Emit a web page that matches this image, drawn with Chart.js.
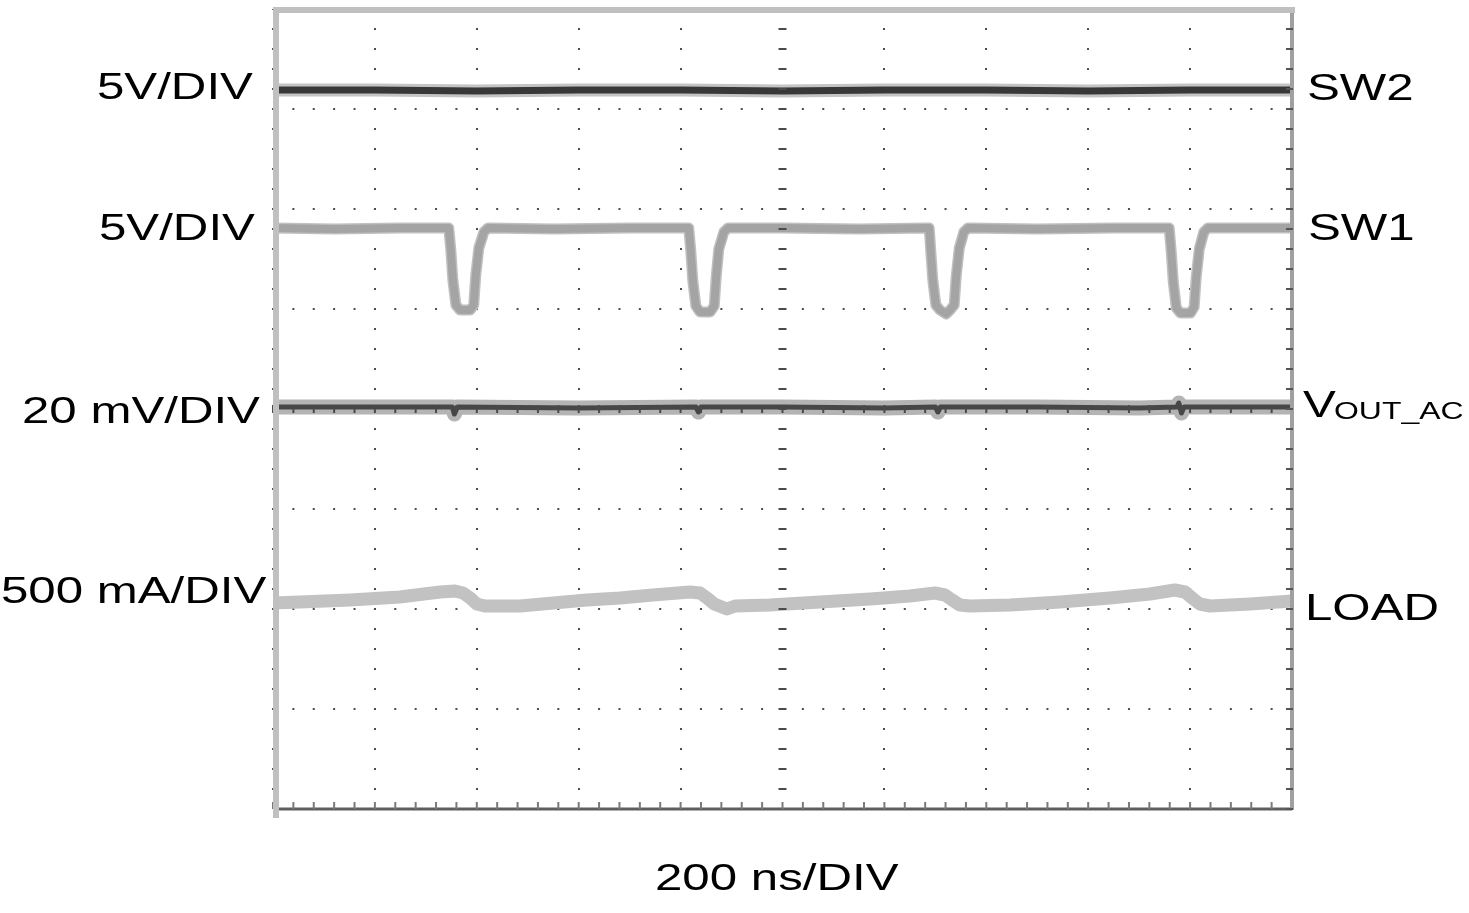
<!DOCTYPE html>
<html>
<head>
<meta charset="utf-8">
<script src="https://cdn.jsdelivr.net/npm/chart.js@4/dist/chart.umd.min.js"></script>
<style>
html,body{margin:0;padding:0;background:#fff;}
canvas{display:block;}
</style>
</head>
<body>
<canvas id="c" width="1469" height="913"></canvas>
<script>
// ---- time base (ns) and vertical position (divisions, 0 = centre line) ----
const xTickStep = 200;          // 200 ns / DIV
const xMin = 0, xMax = 2000;
const yMin = -4, yMax = 4;

// SW2 trace
const sw2T = [0, 200, 400, 600, 800, 1000, 1200, 1400, 1600, 1800, 2000];
const sw2V = [3.19, 3.19, 3.18, 3.19, 3.19, 3.18, 3.19, 3.19, 3.18, 3.19, 3.19];

// SW1 trace
const sw1T = [0, 120, 250, 341, 345, 349, 353, 359, 367, 387, 394, 398, 404, 414, 422,
  550, 700, 813, 816, 820, 824, 830, 838, 858, 866, 870, 875, 885, 893,
  1000, 1150, 1284, 1288, 1291, 1295, 1301, 1309, 1321, 1329, 1337, 1341, 1347, 1356, 1364,
  1500, 1650, 1755, 1759, 1763, 1767, 1773, 1781, 1801, 1808, 1812, 1818, 1827, 1835, 2000];
const sw1V = [1.81, 1.80, 1.81, 1.81, 1.81, 1.59, 1.29, 1.04, 0.99, 0.99, 1.04, 1.34, 1.61, 1.77, 1.81,
  1.80, 1.81, 1.81, 1.81, 1.58, 1.28, 1.03, 0.97, 0.97, 1.03, 1.33, 1.60, 1.77, 1.81,
  1.81, 1.80, 1.81, 1.81, 1.58, 1.29, 1.04, 0.99, 0.95, 0.99, 1.04, 1.33, 1.61, 1.77, 1.81,
  1.80, 1.81, 1.81, 1.81, 1.57, 1.27, 1.01, 0.96, 0.96, 1.02, 1.32, 1.60, 1.77, 1.81, 1.81];

// VOUT_AC trace
const voutT = [0, 200, 352, 356, 362, 600, 830, 835, 840, 1000, 1200, 1300, 1305, 1310, 1500, 1700, 1774, 1778, 1783, 1788, 2000];
const voutV = [0.02, 0.02, 0.02, -0.05, 0.02, 0.01, 0.02, -0.03, 0.02, 0.02, 0.01, 0.02, -0.03, 0.02, 0.02, 0.01, 0.02, 0.06, -0.04, 0.02, 0.02];

// LOAD trace
const loadT = [0, 53, 151, 249, 328, 357, 373, 387, 400, 416, 485, 550, 616, 681, 746, 818, 838, 852, 866, 881, 891, 907,
  975, 1074, 1172, 1250, 1299, 1319, 1333, 1348, 1368, 1447, 1545, 1643, 1721, 1770, 1790, 1804, 1819, 1839, 1918, 2000];
const loadV = [-1.94, -1.93, -1.91, -1.88, -1.83, -1.82, -1.84, -1.89, -1.95, -1.97, -1.97, -1.94, -1.91, -1.89, -1.86, -1.83, -1.84, -1.89, -1.95, -1.98, -2.00, -1.97,
  -1.96, -1.93, -1.90, -1.87, -1.84, -1.86, -1.91, -1.96, -1.97, -1.96, -1.93, -1.89, -1.85, -1.81, -1.83, -1.89, -1.95, -1.97, -1.95, -1.92];

// text
const leftLabels  = ['5V/DIV', '5V/DIV', '20 mV/DIV', '500 mA/DIV'];
const rightLabels = ['SW2', 'SW1', 'V', 'LOAD'];
const voutSub = 'OUT_AC';
const xTitle = '200 ns/DIV';

const pts = (T, V) => T.map((t, i) => ({x: t, y: V[i]}));

const FONT = '"Liberation Sans", Arial, sans-serif';
function stretchText(ctx, txt, x, y, size, sx) {
  ctx.save();
  ctx.translate(x, y);
  ctx.scale(sx, 1);
  ctx.font = size + 'px ' + FONT;
  ctx.textAlign = 'left';
  ctx.textBaseline = 'alphabetic';
  ctx.fillStyle = '#000';
  ctx.fillText(txt, 0, 0);
  ctx.restore();
}

const decor = {
  id: 'decor',
  beforeDraw(chart) {
    const ctx = chart.ctx;
    ctx.save();
    ctx.fillStyle = '#fff';
    ctx.fillRect(0, 0, chart.width, chart.height);
    ctx.restore();
  },
  afterDatasetsDraw(chart) {
    const ctx = chart.ctx, xs = chart.scales.x, ys = chart.scales.y, a = chart.chartArea;
    ctx.save();
    // centre crosshair minor ticks
    ctx.strokeStyle = '#4a4a4a';
    ctx.lineWidth = 2;
    const cx = xs.getPixelForValue((xMin + xMax) / 2);
    const cy = ys.getPixelForValue(0);
    for (let v = yMin; v <= yMax + 1e-9; v += 0.2) {
      const py = ys.getPixelForValue(v);
      ctx.beginPath(); ctx.moveTo(cx - 4, py); ctx.lineTo(cx + 4, py); ctx.stroke();
    }
    for (let t = xMin; t <= xMax + 1e-9; t += xTickStep / 5) {
      const px = xs.getPixelForValue(t);
      ctx.beginPath(); ctx.moveTo(px, cy - 4); ctx.lineTo(px, cy + 4); ctx.stroke();
    }
    // bottom edge with ticks
    ctx.strokeStyle = '#5e5e5e';
    ctx.lineWidth = 3;
    ctx.beginPath(); ctx.moveTo(a.left, a.bottom); ctx.lineTo(a.right, a.bottom); ctx.stroke();
    ctx.strokeStyle = '#7a7a7a';
    ctx.lineWidth = 2;
    for (let t = xMin; t <= xMax + 1e-9; t += xTickStep / 5) {
      const px = xs.getPixelForValue(t);
      ctx.beginPath(); ctx.moveTo(px, a.bottom); ctx.lineTo(px, a.bottom - 7); ctx.stroke();
    }
    // right edge with ticks
    ctx.strokeStyle = '#a0a0a0';
    ctx.lineWidth = 4;
    ctx.beginPath(); ctx.moveTo(a.right, a.top); ctx.lineTo(a.right, a.bottom + 1); ctx.stroke();
    ctx.strokeStyle = '#555';
    ctx.lineWidth = 2;
    for (let v = yMin; v <= yMax + 1e-9; v += 0.2) {
      const py = ys.getPixelForValue(v);
      ctx.beginPath(); ctx.moveTo(a.right - 6, py); ctx.lineTo(a.right + 1, py); ctx.stroke();
    }
    // top and left edges (light grey)
    ctx.strokeStyle = '#c0c0c0';
    ctx.lineWidth = 6;
    ctx.beginPath(); ctx.moveTo(a.left, a.top + 1); ctx.lineTo(a.right + 3, a.top + 1); ctx.stroke();
    ctx.beginPath(); ctx.moveTo(a.left + 3, a.top - 2); ctx.lineTo(a.left + 3, a.bottom + 9); ctx.stroke();
    ctx.restore();
  },
  afterDraw(chart) {
    const ctx = chart.ctx;
    const S = 37, SX = 1.33;
    // left labels
    stretchText(ctx, leftLabels[0], 97, 99, S, SX);
    stretchText(ctx, leftLabels[1], 99, 240, S, SX);
    stretchText(ctx, leftLabels[2], 22, 423, S, SX);
    stretchText(ctx, leftLabels[3], 1, 603, S, SX);
    // right labels
    stretchText(ctx, rightLabels[0], 1307, 100, S, SX);
    stretchText(ctx, rightLabels[1], 1308, 240, S, SX);
    stretchText(ctx, rightLabels[2], 1303, 417, S, SX);
    stretchText(ctx, voutSub, 1334, 419, 24, SX);
    stretchText(ctx, rightLabels[3], 1305, 620, S, SX);
    // x title
    stretchText(ctx, xTitle, 655, 890, S, SX);
  }
};

const common = {pointRadius: 0, tension: 0, fill: false, borderJoinStyle: 'round', borderCapStyle: 'round'};

new Chart(document.getElementById('c'), {
  type: 'line',
  data: {
    datasets: [
      Object.assign({label: 'SW2', data: pts(sw2T, sw2V), borderColor: '#383838', borderWidth: 7, order: 0}, common),
      Object.assign({label: 'SW2 noise', data: pts(sw2T, sw2V), borderColor: '#c4c4c4', borderWidth: 13, order: 1}, common),
      Object.assign({label: 'SW1', data: pts(sw1T, sw1V), borderColor: '#a4a4a4', borderWidth: 8, order: 0}, common),
      Object.assign({label: 'SW1 noise', data: pts(sw1T, sw1V), borderColor: '#c0c0c0', borderWidth: 11, order: 1}, common),
      Object.assign({label: 'VOUT_AC', data: pts(voutT, voutV), borderColor: '#474747', borderWidth: 5, order: 0}, common),
      Object.assign({label: 'VOUT_AC noise', data: pts(voutT, voutV), borderColor: '#b4b4b4', borderWidth: 15, order: 1}, common),
      Object.assign({label: 'LOAD', data: pts(loadT, loadV), borderColor: '#c2c2c2', borderWidth: 13, order: 1}, common)
    ]
  },
  options: {
    responsive: false,
    animation: false,
    devicePixelRatio: 1,
    events: [],
    layout: {padding: {left: 273, right: 177, top: 9, bottom: 104}},
    plugins: {legend: {display: false}, tooltip: {enabled: false}, title: {display: false}},
    scales: {
      x: {
        type: 'linear', min: xMin, max: xMax,
        ticks: {display: false, stepSize: xTickStep},
        grid: {color: '#4e4e4e', lineWidth: 2, drawTicks: false},
        border: {display: false, dash: [2, 18], dashOffset: 1},
        afterFit(s) { s.height = 0; }
      },
      y: {
        type: 'linear', min: yMin, max: yMax,
        ticks: {display: false, stepSize: 1},
        grid: {color: '#4e4e4e', lineWidth: 2, drawTicks: false},
        border: {display: false, dash: [2, 18.38], dashOffset: 1},
        afterFit(s) { s.width = 0; }
      }
    }
  },
  plugins: [decor]
});
</script>
</body>
</html>
